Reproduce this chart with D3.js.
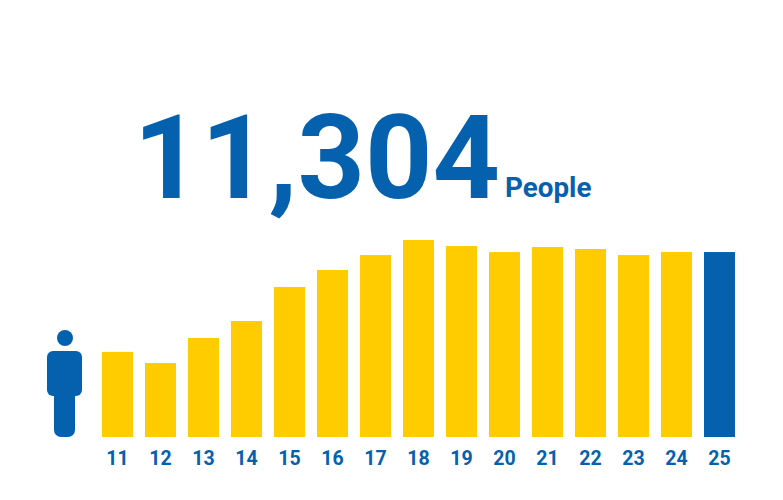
<!DOCTYPE html>
<html><head><meta charset="utf-8">
<script src="https://cdn.jsdelivr.net/npm/d3@7"></script>
<style>html,body{margin:0;padding:0;background:#fff}svg{display:block}text{font-family:Roboto,sans-serif;font-weight:700;fill:#0560ae}</style>
</head><body><svg id="c" width="783" height="500"></svg>
<script>
const years = ["11","12","13","14","15","16","17","18","19","20","21","22","23","24","25"];
const people = [5200,4520,6050,7090,9170,10210,11120,12040,11670,11300,11610,11490,11120,11304,11304];
const totalLabel = "11,304";
const unitLabel = "People";
const blue = "#0560ae", yellow = "#ffcc00";
const svg = d3.select("#c");
const x = d3.scaleBand().domain(years).range([102,735]).paddingInner(12/43).paddingOuter(0);
const y = d3.scaleLinear().domain([0,12040]).range([437,240]);
svg.selectAll("rect.bar").data(years).join("rect").attr("class","bar")
  .attr("x",d=>x(d)).attr("width",x.bandwidth())
  .attr("y",(d,i)=>y(people[i])).attr("height",(d,i)=>y(0)-y(people[i]))
  .attr("fill",(d,i)=>i===years.length-1?blue:yellow);
const axis = svg.append("g").attr("transform","translate(0,437)").call(d3.axisBottom(x).tickSize(0).tickPadding(14));
axis.select(".domain").remove();
axis.selectAll("text").style("font-size","19.5px").style("font-family","Roboto,sans-serif").style("font-weight","700");
svg.append("text").attr("x",133.5).attr("y",198).attr("font-size",117.7).text(totalLabel);
svg.append("text").attr("x",505).attr("y",197).attr("font-size",27.8).text(unitLabel);
const icon = svg.append("g").attr("fill",blue);
icon.append("circle").attr("cx",65).attr("cy",338).attr("r",8);
icon.append("rect").attr("x",47).attr("y",351).attr("width",35).attr("height",45).attr("rx",6);
icon.append("rect").attr("x",54).attr("y",380).attr("width",21).attr("height",57).attr("rx",7);
</script></body></html>
